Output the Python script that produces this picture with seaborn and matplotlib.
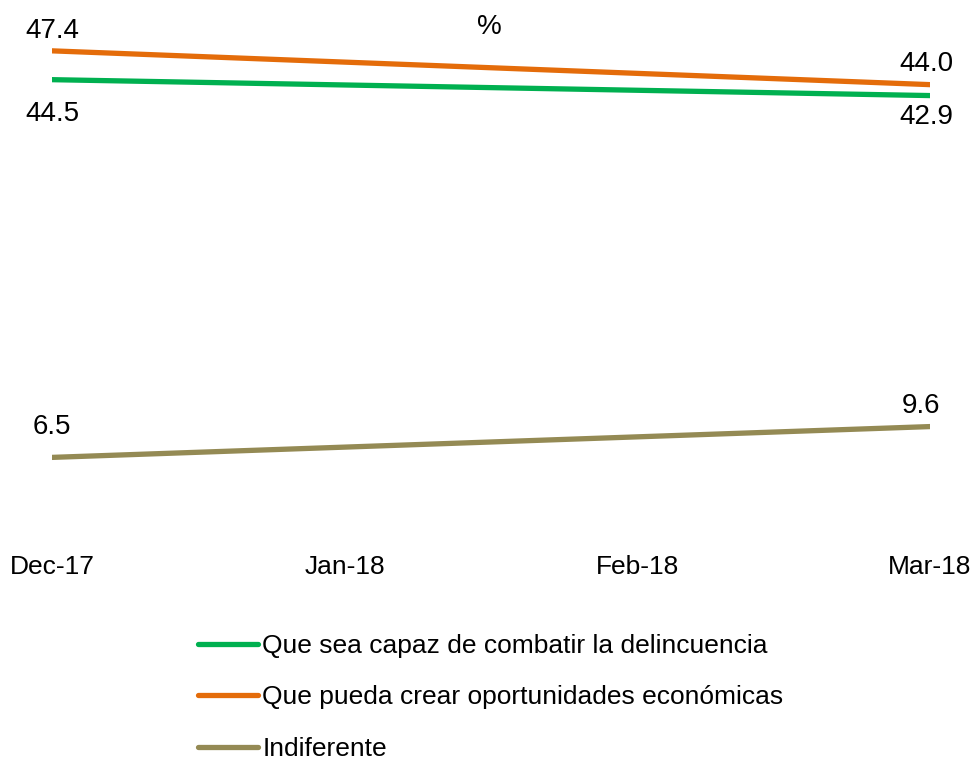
import pandas as pd
import matplotlib
matplotlib.use("Agg")
import matplotlib.pyplot as plt
import seaborn as sns

# data
months = ["Dec-17", "Jan-18", "Feb-18", "Mar-18"]
obs_months = ["Dec-17", "Mar-18"]
delincuencia = [44.5, 42.9]
oportunidades = [47.4, 44.0]
indiferente = [6.5, 9.6]

series_names = [
    "Que sea capaz de combatir la delincuencia",
    "Que pueda crear oportunidades económicas",
    "Indiferente",
]
series_vals = [delincuencia, oportunidades, indiferente]
colors = ["#00B050", "#E46C0A", "#948A54"]

rows = []
for name, vals in zip(series_names, series_vals):
    for m, v in zip(obs_months, vals):
        rows.append({"serie": name, "x": months.index(m), "valor": v})
df = pd.DataFrame(rows)

sns.set_theme(style="white")
plt.rcParams["font.family"] = ["Liberation Sans", "DejaVu Sans"]
plt.rcParams["text.color"] = "black"

fig = plt.figure(figsize=(9.77, 7.61), dpi=100)
ax = fig.add_axes([52 / 977, 1 - 522 / 761, 878 / 977, 497 / 761])

sns.lineplot(data=df, x="x", y="valor", hue="serie", hue_order=series_names,
             palette=colors, linewidth=3.8, ax=ax, legend=False,
             solid_capstyle="round")

ax.set_xlim(0, 3)
ax.set_ylim(0, 50)
ax.set_xticks(range(len(months)))
ax.set_xticklabels(months, fontsize=19, color="black")
ax.set_yticks([])
ax.tick_params(axis="x", length=0, pad=24)
ax.set_xlabel("")
ax.set_ylabel("")
for s in ax.spines.values():
    s.set_visible(False)

# data labels: offsets in pixels per series / point
offsets = {
    0: [(0, -34), (-4, -21)],
    1: [(0, 20), (-4, 21)],
    2: [(0, 30), (-9, 21)],
}
for i, vals in enumerate(series_vals):
    for j, (m, v) in enumerate(zip(obs_months, vals)):
        dx, dy = offsets[i][j]
        ax.annotate(f"{v:.1f}", (months.index(m), v), xytext=(dx, dy),
                    textcoords="offset pixels", ha="center", va="center",
                    fontsize=20, color="black", annotation_clip=False)

fig.text(489 / 977, 1 - 27 / 761, "%", ha="center", va="center", fontsize=20)

handles = [plt.Line2D([], [], color=c, linewidth=3.8, solid_capstyle="round")
           for c in colors]
leg = fig.legend(handles, series_names, loc="upper left",
                 bbox_to_anchor=(174 / 977, 1 - 610 / 761), frameon=False,
                 fontsize=19, handlelength=2.3, handletextpad=0.15,
                 labelspacing=1.05)
for t in leg.get_texts():
    t.set_color("black")

fig.savefig("out.png", dpi=100)
